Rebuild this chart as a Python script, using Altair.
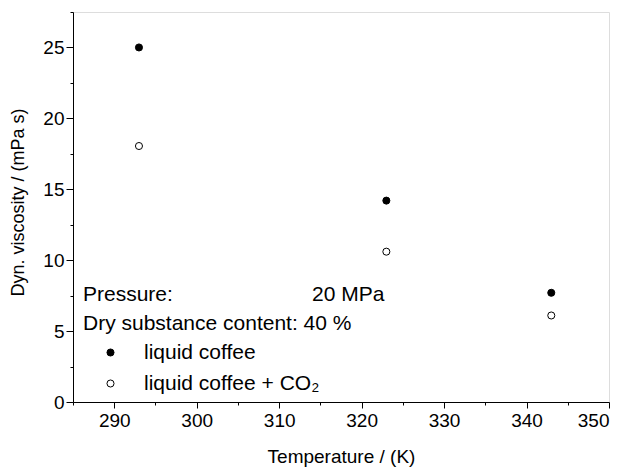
import altair as alt
import pandas as pd

# Data
temperature = [293, 323, 343]
visc_liquid = [25.0, 14.2, 7.7]
visc_co2 = [18.05, 10.6, 6.1]
series_names = ["liquid coffee", "liquid coffee + CO\u2082"]

x_ticks = [285, 290, 295, 300, 305, 310, 315, 320, 325, 330, 335, 340, 345, 350]
y_ticks = [0, 2.5, 5, 7.5, 10, 12.5, 15, 17.5, 20, 22.5, 25, 27.5]

note_pressure = "Pressure:"
note_pressure_value = "20 MPa"
note_dry = "Dry substance content: 40 %"

FONT = "Liberation Sans"

rows = []
for t, v in zip(temperature, visc_liquid):
    rows.append({"T": t, "eta": v, "series": series_names[0]})
for t, v in zip(temperature, visc_co2):
    rows.append({"T": t, "eta": v, "series": series_names[1]})
df = pd.DataFrame(rows)

x_axis = alt.Axis(
    values=x_ticks,
    labelExpr="datum.value % 10 === 0 ? datum.label : ''",
    tickSize={"condition": {"test": "datum.value % 10 === 0", "value": 6}, "value": 3},
    grid=False,
    title="Temperature / (K)",
    titleFont=FONT, titleFontSize=19, titleFontWeight="normal",
    titleY=60, titleBaseline="alphabetic",
    labelFont=FONT, labelFontSize=19, labelPadding=3,
    tickColor="black", domainColor="black", labelColor="black", titleColor="black",
)
y_axis = alt.Axis(
    values=y_ticks,
    labelExpr="datum.value % 5 === 0 ? datum.label : ''",
    tickSize={"condition": {"test": "datum.value % 5 === 0", "value": 7}, "value": 3},
    grid=False,
    title="Dyn. viscosity / (mPa s)",
    titleFont=FONT, titleFontSize=18, titleFontWeight="normal",
    titleAngle=-90, titleX=-50, titleY=190, titleAlign="center", titleBaseline="alphabetic",
    labelFont=FONT, labelFontSize=19, labelPadding=2,
    tickColor="black", domainColor="black", labelColor="black", titleColor="black",
)

points = alt.Chart(df).mark_point(shape="circle", size=50, stroke="black", strokeWidth=1, opacity=1).encode(
    x=alt.X("T:Q", scale=alt.Scale(domain=[285, 350], nice=False, zero=False), axis=x_axis),
    y=alt.Y("eta:Q", scale=alt.Scale(domain=[0, 27.5], nice=False), axis=y_axis),
    fill=alt.Fill(
        "series:N",
        scale=alt.Scale(domain=series_names, range=["black", "white"]),
        legend=alt.Legend(
            title=None, orient="none", legendX=27, legendY=330,
            labelFont=FONT, labelFontSize=21, labelColor="black", labelOffset=23,
            labelLimit=400,
            symbolType="circle", symbolSize=50, symbolStrokeColor="black", symbolStrokeWidth=1,
            rowPadding=9, padding=0,
        ),
    ),
)

def note(txt, px, py):
    return alt.Chart(pd.DataFrame({"text": [txt]})).mark_text(
        align="left", baseline="middle", font=FONT, fontSize=21, color="black"
    ).encode(text="text:N", x=alt.value(px), y=alt.value(py))

chart = alt.layer(
    points,
    note(note_pressure, 10, 283),
    note(note_pressure_value, 239, 283),
    note(note_dry, 10, 311.5),
).properties(
    width=536, height=390,
    autosize=alt.AutoSizeParams(type="none"),
    padding={"left": 65, "top": 4, "right": 10, "bottom": 70},
).configure_view(stroke="black", strokeWidth=1).configure(background="white")

chart.save("out.html", embed_options={"renderer": "svg", "actions": False})
